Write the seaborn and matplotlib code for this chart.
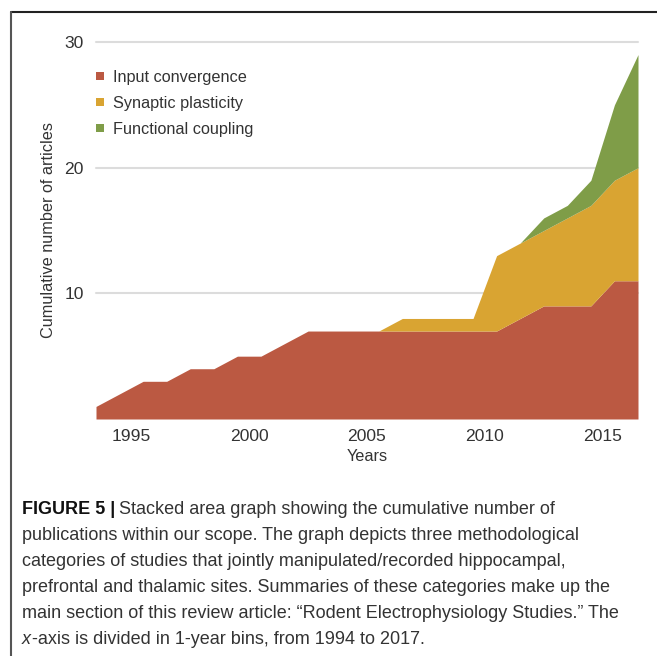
import matplotlib
matplotlib.use("Agg")
import matplotlib.pyplot as plt
from matplotlib.lines import Line2D
import numpy as np
import pandas as pd
import seaborn as sns

# cumulative number of articles per year (bin edges 1994 .. 2017)
years = list(range(1994, 2018))
input_convergence = [1, 2, 3, 3, 4, 4, 5, 5, 6, 7, 7, 7, 7, 7, 7, 7, 7, 7, 8, 9, 9, 9, 11, 11]
synaptic_plasticity = [0, 0, 0, 0, 0, 0, 0, 0, 0, 0, 0, 0, 0, 1, 1, 1, 1, 6, 6, 6, 7, 8, 8, 9]
functional_coupling = [0, 0, 0, 0, 0, 0, 0, 0, 0, 0, 0, 0, 0, 0, 0, 0, 0, 0, 0, 1, 1, 2, 6, 9]

categories = ["Input convergence", "Synaptic plasticity", "Functional coupling"]
colors = ["#BB5942", "#D9A432", "#7F9D48"]
tick_years = [1995, 2000, 2005, 2010, 2015]

caption_lines = [
    "publications within our scope. The graph depicts three methodological",
    "categories of studies that jointly manipulated/recorded hippocampal,",
    "prefrontal and thalamic sites. Summaries of these categories make up the",
    "main section of this review article: \u201cRodent Electrophysiology Studies.\u201d The",
]
caption_last = "-axis is divided in 1-year bins, from 1994 to 2017."

df = pd.DataFrame({
    "year": years * 3,
    "category": sum([[c] * len(years) for c in categories], []),
    "count": input_convergence + synaptic_plasticity + functional_coupling,
})

sns.set_theme(style="white")
plt.rcParams["font.family"] = ["Liberation Sans", "DejaVu Sans"]

W, H = 657, 656
fig = plt.figure(figsize=(W / 100, H / 100), dpi=100)
ax = fig.add_axes([96 / W, 1 - 419 / H, 542 / W, 377 / H])

# seaborn stacks the last hue level at the bottom
sns.histplot(data=df, x="year", weights="count", hue="category",
             hue_order=categories[::-1], palette=colors[::-1],
             multiple="stack", element="poly", discrete=True,
             alpha=1, linewidth=0, legend=False, ax=ax)

ax.set_xlim(1994, 2017)
ax.set_ylim(0, 30)
ax.set_xticks([y + 0.5 for y in tick_years])
ax.set_xticklabels([str(y) for y in tick_years])
ax.set_yticks([10, 20, 30])
ax.tick_params(axis="both", length=0, labelsize=12.6, labelcolor="#333333")
ax.tick_params(axis="x", pad=7)
ax.tick_params(axis="y", pad=9)
ax.yaxis.grid(True, color="#dcdcdc", linewidth=1.5)
for gl in ax.get_ygridlines():
    gl.set_clip_on(False)
ax.set_axisbelow(True)
for s in ax.spines.values():
    s.set_visible(False)

ax.set_xlabel("Years", fontsize=11.7, color="#333333", labelpad=4)
ax.set_ylabel("Cumulative number of articles", fontsize=11.7, color="#333333", labelpad=6)

handles = [Line2D([0], [0], marker="s", linestyle="", markersize=5.8,
                  markerfacecolor=c, markeredgewidth=0) for c in colors]
leg = ax.legend(handles, categories, loc="upper left",
                bbox_to_anchor=(95 / W, 1 - 70 / H), bbox_transform=fig.transFigure,
                frameon=False, fontsize=11.7, handlelength=0.6, handletextpad=0.5,
                labelspacing=0.68, borderpad=0, borderaxespad=0)
for t in leg.get_texts():
    t.set_color("#333333")

# frame lines (top and left)
fig.add_artist(Line2D([11 / W, 1], [1 - 12 / H, 1 - 12 / H], transform=fig.transFigure,
                      color="#222222", linewidth=1.5))
fig.add_artist(Line2D([11 / W, 11 / W], [0, 1 - 12 / H], transform=fig.transFigure,
                      color="#555555", linewidth=1.5))

# caption
renderer = fig.canvas.get_renderer()
cap_family = ["Liberation Sans Narrow", "Liberation Sans"]
probe = fig.text(0, 0, caption_lines[3], fontsize=10, family=cap_family)
w = probe.get_window_extent(renderer).width
probe.remove()
cap_size = 10 * 599 / w

x0 = 22 / W
line_y = [510, 536, 562, 588, 614, 640]
bold = fig.text(x0, 1 - line_y[0] / H, "FIGURE 5 |", fontsize=cap_size, family=cap_family,
                weight="bold", color="#111111", va="center")
bw = bold.get_window_extent(renderer).width
fig.text(x0 + (bw + 4) / W, 1 - line_y[0] / H,
         "Stacked area graph showing the cumulative number of",
         fontsize=cap_size, family=cap_family, color="#333333", va="center")
for yy, line in zip(line_y[1:5], caption_lines):
    fig.text(x0, 1 - yy / H, line, fontsize=cap_size, family=cap_family,
             color="#333333", va="center")
xi = fig.text(x0, 1 - line_y[5] / H, "x", fontsize=cap_size, family=cap_family,
              style="italic", color="#333333", va="center")
xw = xi.get_window_extent(renderer).width
fig.text(x0 + (xw + 0.5) / W, 1 - line_y[5] / H, caption_last, fontsize=cap_size,
         family=cap_family, color="#333333", va="center")

fig.savefig("out.png", dpi=100)
